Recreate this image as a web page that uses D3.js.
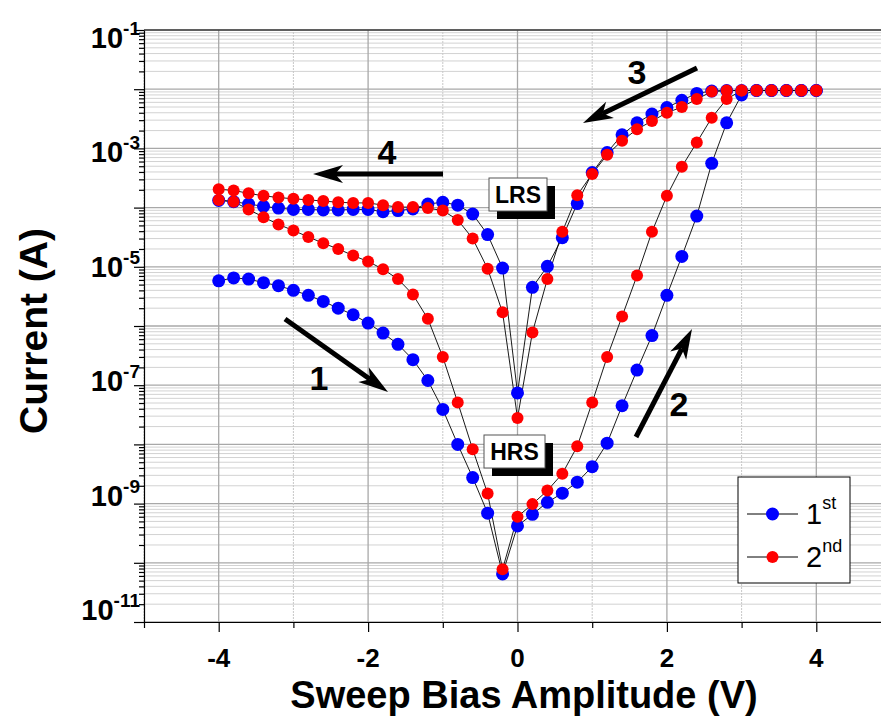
<!DOCTYPE html>
<meta charset="utf-8">
<head>
    <style type="text/css">
        body { margin: 0; background: #fff; }
        text { font-family: Arial, "Liberation Sans", sans-serif; }
        .line { fill: none; stroke: #000; stroke-width: 0.9; }
        .grid-major { stroke: #a8a8a8; stroke-width: 1.3; }
        .grid-minor { stroke: #d2d2d2; stroke-width: 1; }
        .grid-dot { stroke: #c8c8c8; stroke-width: 1; stroke-dasharray: 2,1; }
        .axis path, .axis line { stroke: #000; stroke-width: 1.2; }
    </style>
</head>
<body>
    <script src="https://cdn.jsdelivr.net/npm/d3@7"></script>
    <script>
        // sweep voltages (V), forward sweep -4 -> 4
        var voltUp = [-4, -3.8, -3.6, -3.4, -3.2, -3, -2.8, -2.6, -2.4, -2.2, -2, -1.8, -1.6, -1.4, -1.2, -1, -0.8, -0.6, -0.4, -0.2,
            0, 0.2, 0.4, 0.6, 0.8, 1, 1.2, 1.4, 1.6, 1.8, 2, 2.2, 2.4, 2.6, 2.8, 3, 3.2, 3.4, 3.6, 3.8, 4];
        // backward sweep 4 -> -4
        var voltDown = voltUp.slice().reverse();

        // 1st cycle (A)
        var firstUp = [5.8e-6, 6.5e-6, 6.2e-6, 5.4e-6, 4.8e-6, 4.0e-6, 3.3e-6, 2.6e-6, 2.0e-6, 1.55e-6, 1.12e-6, 7.6e-7, 4.9e-7, 2.7e-7, 1.2e-7, 3.9e-8, 1.0e-8, 2.75e-9, 6.9e-10, 6.5e-11,
            4.2e-10, 6.6e-10, 1.05e-9, 1.5e-9, 2.3e-9, 4.2e-9, 1.05e-8, 4.5e-8, 1.8e-7, 6.9e-7, 3.3e-6, 1.5e-5, 7.2e-5, 5.6e-4, 2.7e-3, 8.0e-3, 9.5e-3, 9.5e-3, 9.5e-3, 9.5e-3, 9.5e-3];
        var firstDown = [9.5e-3, 9.5e-3, 9.5e-3, 9.5e-3, 9.5e-3, 9.5e-3, 9.5e-3, 9.3e-3, 8.5e-3, 6.5e-3, 4.9e-3, 3.8e-3, 2.7e-3, 1.7e-3, 8.5e-4, 3.9e-4, 1.17e-4, 3.1e-5, 1.02e-5, 4.5e-6,
            7.4e-8, 9.5e-6, 3.5e-5, 7.8e-5, 1.1e-4, 1.23e-4, 1.15e-4, 9.5e-5, 8.9e-5, 8.5e-5, 9.3e-5, 9.3e-5, 9.1e-5, 9.1e-5, 9.3e-5, 9.3e-5, 9.8e-5, 1.05e-4, 1.15e-4, 1.26e-4, 1.32e-4];

        // 2nd cycle (A)
        var secondUp = [1.35e-4, 1.26e-4, 9.3e-5, 6.9e-5, 5.2e-5, 4.1e-5, 3.2e-5, 2.5e-5, 2.0e-5, 1.55e-5, 1.23e-5, 9.1e-6, 6.2e-6, 3.4e-6, 1.32e-6, 3.0e-7, 5.1e-8, 8.3e-9, 1.48e-9, 7.8e-11,
            6.0e-10, 9.8e-10, 1.66e-9, 3.2e-9, 9.3e-9, 5.1e-8, 3.0e-7, 1.45e-6, 7.1e-6, 3.9e-5, 1.58e-4, 4.9e-4, 1.26e-3, 3.3e-3, 6.8e-3, 9.5e-3, 9.5e-3, 9.5e-3, 9.5e-3, 9.5e-3, 9.5e-3];
        var secondDown = [9.5e-3, 9.5e-3, 9.5e-3, 9.5e-3, 9.5e-3, 9.5e-3, 9.5e-3, 9.1e-3, 6.8e-3, 5.0e-3, 4.0e-3, 2.9e-3, 2.1e-3, 1.35e-3, 7.8e-4, 3.7e-4, 1.62e-4, 3.9e-5, 6.2e-6, 7.8e-7,
            2.8e-8, 1.7e-6, 9.3e-6, 3.0e-5, 6.2e-5, 8.9e-5, 9.8e-5, 1.02e-4, 1.02e-4, 1.1e-4, 1.2e-4, 1.2e-4, 1.23e-4, 1.29e-4, 1.35e-4, 1.41e-4, 1.48e-4, 1.58e-4, 1.74e-4, 1.95e-4, 2.04e-4];

        var xTicks = [-5, -4, -3, -2, -1, 0, 1, 2, 3, 4, 5];
        var xTickLabels = ["-4", "-2", "0", "2", "4"];
        var yDecades = [-11, -10, -9, -8, -7, -6, -5, -4, -3, -2, -1];
        var yLabelExps = [-1, -3, -5, -7, -9, -11];
        var seriesNames = ["1", "2"];
        var seriesSups = ["st", "nd"];

        var W = 881, H = 716;
        var margin = { top: 30, left: 144 };
        var plotW = 747, plotH = 592;

        var svg = d3.select("body").append("svg")
            .attr("width", W)
            .attr("height", H);

        var xScale = d3.scaleLinear().domain([-5, 5]).range([margin.left, margin.left + plotW]);
        var yScale = d3.scaleLog().domain([1e-11, 1e-1]).range([margin.top + plotH, margin.top]);
        // tick labels sit slightly inside the end ticks, like the original
        var yLabelScale = yScale.copy().range([margin.top + plotH - 12, margin.top + 8]);

        var x0 = xScale(-5), x1 = xScale(5), y0 = yScale(1e-11), y1 = yScale(1e-1);

        // grid: minor horizontal lines
        var minorVals = [];
        yDecades.slice(0, -1).forEach(function (e) {
            for (var k = 2; k <= 9; k++) minorVals.push(k * Math.pow(10, e));
        });
        var grid = svg.append("g");
        grid.selectAll(".gmin").data(minorVals).enter().append("line")
            .attr("class", "grid-minor")
            .attr("x1", x0).attr("x2", x1)
            .attr("y1", function (d) { return yScale(d); })
            .attr("y2", function (d) { return yScale(d); });
        grid.selectAll(".gmaj").data(yDecades).enter().append("line")
            .attr("class", "grid-major")
            .attr("x1", x0).attr("x2", x1)
            .attr("y1", function (d) { return yScale(Math.pow(10, d)); })
            .attr("y2", function (d) { return yScale(Math.pow(10, d)); });
        grid.selectAll(".gx").data(xTicks).enter().append("line")
            .attr("class", function (d) { return d % 2 === 0 ? "grid-major" : "grid-dot"; })
            .attr("x1", function (d) { return xScale(d); })
            .attr("x2", function (d) { return xScale(d); })
            .attr("y1", y0).attr("y2", y1);

        // frame top
        svg.append("line").attr("x1", x0).attr("x2", x1).attr("y1", y1).attr("y2", y1)
            .attr("stroke", "#000").attr("stroke-width", 1.2);

        // x axis
        var xAxis = svg.append("g").attr("class", "axis")
            .attr("transform", "translate(0," + y0 + ")")
            .call(d3.axisBottom(xScale).tickValues(xTicks).tickSize(6).tickSizeOuter(0).tickFormat(""));
        xAxis.selectAll(".tick line").attr("y2", function (d) { return d % 2 === 0 ? 10 : 6; });
        svg.selectAll(".xlab").data(xTickLabels).enter().append("text")
            .attr("x", function (d) { return xScale(+d); })
            .attr("y", 667)
            .attr("text-anchor", "middle")
            .attr("font-size", 26).attr("font-weight", "bold")
            .text(function (d) { return d; });

        // y axis
        var yTickVals = minorVals.concat(yDecades.map(function (e) { return Math.pow(10, e); }));
        var yAxis = svg.append("g").attr("class", "axis")
            .attr("transform", "translate(" + x0 + ",0)")
            .call(d3.axisLeft(yScale).tickValues(yTickVals).tickSizeOuter(0).tickFormat(""));
        yAxis.selectAll(".tick line").attr("x2", function (d) {
            var e = Math.log10(d);
            return Math.abs(e - Math.round(e)) < 1e-6 ? -10 : -5;
        });
        var ylab = svg.selectAll(".ylab").data(yLabelExps).enter().append("text")
            .attr("x", 140)
            .attr("y", function (d) { return yLabelScale(Math.pow(10, d)) + 10; })
            .attr("text-anchor", "end")
            .attr("font-weight", "bold");
        ylab.append("tspan").attr("font-size", 29).text("10");
        ylab.append("tspan").attr("font-size", 19).attr("dy", -13)
            .text(function (d) { return String(d); });

        // axis titles
        svg.append("text")
            .attr("x", 524).attr("y", 708)
            .attr("text-anchor", "middle")
            .attr("font-size", 38).attr("font-weight", "bold")
            .text("Sweep Bias Amplitude (V)");
        svg.append("text")
            .attr("transform", "translate(47,331) rotate(-90)")
            .attr("text-anchor", "middle")
            .attr("font-size", 39).attr("font-weight", "bold")
            .text("Current (A)");

        // data
        var series = [
            { color: "#0000ff", r: 6.5, sweeps: [d3.zip(voltUp, firstUp), d3.zip(voltDown, firstDown)] },
            { color: "#ff0000", r: 6, sweeps: [d3.zip(voltUp, secondUp), d3.zip(voltDown, secondDown)] }
        ];
        var line = d3.line()
            .x(function (d) { return xScale(d[0]); })
            .y(function (d) { return yScale(d[1]); });

        series.forEach(function (s) {
            s.sweeps.forEach(function (sw) {
                svg.append("path").datum(sw).attr("class", "line").attr("d", line);
            });
        });
        series.forEach(function (s) {
            s.sweeps.forEach(function (sw) {
                svg.append("g").selectAll("circle").data(sw).enter().append("circle")
                    .attr("cx", function (d) { return xScale(d[0]); })
                    .attr("cy", function (d) { return yScale(d[1]); })
                    .attr("r", s.r)
                    .attr("fill", s.color);
            });
        });

        // arrows
        function arrow(sx, sy, tx, ty) {
            var dx = tx - sx, dy = ty - sy, len = Math.sqrt(dx * dx + dy * dy);
            var ux = dx / len, uy = dy / len, nx = -uy, ny = ux;
            var L = 30, Wd = 9, notch = 22;
            svg.append("line")
                .attr("x1", sx).attr("y1", sy)
                .attr("x2", tx - notch * ux).attr("y2", ty - notch * uy)
                .attr("stroke", "#000").attr("stroke-width", 5);
            var pts = [[tx, ty], [tx - L * ux + Wd * nx, ty - L * uy + Wd * ny],
                [tx - notch * ux, ty - notch * uy], [tx - L * ux - Wd * nx, ty - L * uy - Wd * ny]];
            svg.append("path").attr("d", "M" + pts.join("L") + "Z").attr("fill", "#000");
        }
        arrow(285, 319, 388, 392);
        arrow(636, 437, 692, 329);
        arrow(697, 68, 583, 123);
        arrow(443, 174, 313, 174);

        var arrowLabels = [["1", 319, 390], ["2", 679, 416], ["3", 637, 84], ["4", 387, 164]];
        svg.selectAll(".alab").data(arrowLabels).enter().append("text")
            .attr("x", function (d) { return d[1]; })
            .attr("y", function (d) { return d[2]; })
            .attr("text-anchor", "middle")
            .attr("font-size", 34).attr("font-weight", "bold")
            .text(function (d) { return d[0]; });

        // state boxes
        function stateBox(label, bx, by, bw, bh) {
            svg.append("rect").attr("x", bx + 8).attr("y", by + 8).attr("width", bw).attr("height", bh).attr("fill", "#000");
            svg.append("rect").attr("x", bx).attr("y", by).attr("width", bw).attr("height", bh)
                .attr("fill", "#fff").attr("stroke", "#555").attr("stroke-width", 1);
            svg.append("text").attr("x", bx + bw / 2).attr("y", by + bh / 2 + 8)
                .attr("text-anchor", "middle").attr("font-size", 23).attr("font-weight", "bold")
                .text(label);
        }
        stateBox("LRS", 489, 178, 58, 33);
        stateBox("HRS", 484, 435, 61, 33);

        // legend
        var lg = svg.append("g");
        lg.append("rect").attr("x", 738).attr("y", 477).attr("width", 112).attr("height", 106)
            .attr("fill", "#fff").attr("stroke", "#000").attr("stroke-width", 1);
        series.forEach(function (s, i) {
            var ly = 514 + i * 43;
            lg.append("line").attr("x1", 747).attr("x2", 798).attr("y1", ly).attr("y2", ly)
                .attr("stroke", "#000").attr("stroke-width", 1);
            lg.append("circle").attr("cx", 772.5).attr("cy", ly).attr("r", s.r).attr("fill", s.color);
            var t = lg.append("text").attr("x", 806).attr("y", ly + 10);
            t.append("tspan").attr("font-size", 29).text(seriesNames[i]);
            t.append("tspan").attr("font-size", 18).attr("dy", -15).text(seriesSups[i]);
        });
    </script>
</body>
